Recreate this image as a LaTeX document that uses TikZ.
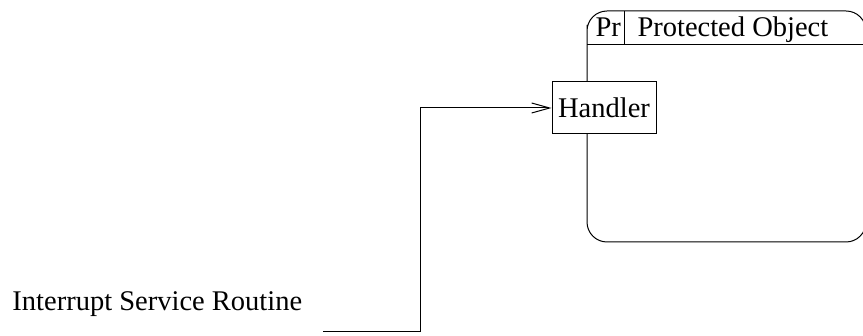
\documentclass[tikz,border=0pt]{standalone}
\usepackage{fontspec}
\setmainfont{Liberation Serif}
\usetikzlibrary{arrows.meta}
\begin{document}
\begin{tikzpicture}[x=1pt,y=-1pt,
  line width=1pt,
  lbl/.style={inner sep=0pt,anchor=base west,font=\fontsize{28.5}{34}\selectfont},
  boxnode/.style={draw,fill=white,minimum width=104pt,minimum height=52pt,inner sep=0pt,
    font=\fontsize{28.5}{34}\selectfont},
  flow/.style={-{Straight Barb[length=18pt,width=10pt,line width=1pt]}}]
\useasboundingbox (0,0) rectangle (863,336);

% protected object frame with its header strip
\draw[rounded corners=20pt] (587,45) -- (587,11) -- (866,11) -- (866,242) -- (587,242) -- cycle;
\draw (587,45) -- (866,45);
\draw (624,11) -- (624,45);
\node[lbl] (pr) at (595,37) {Pr};
\node[lbl] (po) at (637,37) {Protected Object};

% entry point on the object's boundary
\node[boxnode] (handler) at (604,108) {Handler};

% interrupt source
\node[lbl] (isr) at (12,311) {Interrupt Service Routine};
\coordinate (isrout) at (323,332);
\coordinate (bend) at (420,332);
\draw[flow] (isrout) -- (bend) |- (handler.west);
\end{tikzpicture}
\end{document}
